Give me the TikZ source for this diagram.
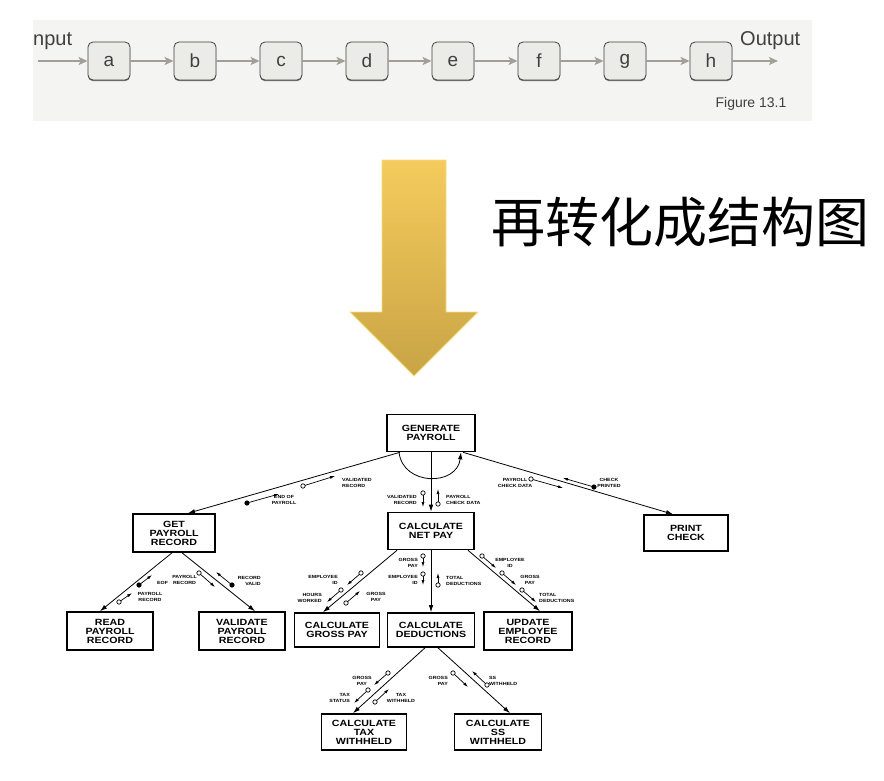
\documentclass[tikz,border=0pt]{standalone}
\usepackage{fontspec}
\setmainfont{Liberation Sans}
\newfontfamily\chartfont[FakeStretch=1.18]{Liberation Sans}
\newfontfamily\cjk{Noto Sans CJK SC}
\usetikzlibrary{arrows.meta,shadows}
\definecolor{panelgray}{HTML}{F4F4F3}
\definecolor{flowgray}{HTML}{A39F97}
\definecolor{boxgray}{HTML}{EBEBE8}
\definecolor{goldtop}{HTML}{F4CB5C}
\definecolor{goldbot}{HTML}{C9A445}
\definecolor{goldedge}{HTML}{F7DB85}

% data couple: #1 tail, #2 head, #3 fill of the tail circle
\newcommand{\dcouple}[3]{%
  \draw[cpl] #1 -- #2;
  \filldraw[fill=#3, line width=0.7pt] #1 circle (2.2);}

\begin{document}
\begin{tikzpicture}[x=1pt, y=-1pt]
  % Define styles
  \tikzstyle{stage} = [rectangle, draw=black!75, fill=boxgray, rounded corners=5pt, line width=0.8pt, minimum width=42pt, minimum height=38pt, font=\fontsize{19}{20}\selectfont, text=black!75, drop shadow={shadow xshift=0pt, shadow yshift=-1.2pt, fill=black!55, opacity=1}]
  \tikzstyle{flow} = [draw=flowgray, line width=1.8pt, -{Stealth[length=9pt, width=8pt, inset=2pt]}]
  \tikzstyle{module} = [rectangle, draw, line width=1.6pt, align=center, font=\chartfont\bfseries\fontsize{9}{9}\selectfont, inner sep=2pt, minimum width=85pt, minimum height=36pt]
  \tikzstyle{call} = [line width=0.8pt, -{Latex[length=7pt, width=4.5pt]}]
  \tikzstyle{cpl} = [line width=0.7pt, -{Latex[length=5pt, width=3pt]}]
  \tikzstyle{tag} = [font=\chartfont\bfseries\fontsize{4.5}{5.8}\selectfont, inner sep=0pt]

  \useasboundingbox (0,0) rectangle (884,780);

  % Figure 13.1 panel
  \fill[panelgray] (33,20) rectangle (812,121);
  \node[stage] (a) at (109,61) {a};
  \node[stage] (b) at (195,61) {b};
  \node[stage] (c) at (281,61) {c};
  \node[stage] (d) at (367,61) {d};
  \node[stage] (e) at (453,61) {e};
  \node[stage] (f) at (539,61) {f};
  \node[stage] (g) at (625,61) {g};
  \node[stage] (h) at (711,61) {h};
  \coordinate (inp) at (38,61);
  \coordinate (outp) at (778,61);
  \draw[flow] (inp) -- (a);
  \draw[flow] (a) -- (b);
  \draw[flow] (b) -- (c);
  \draw[flow] (c) -- (d);
  \draw[flow] (d) -- (e);
  \draw[flow] (e) -- (f);
  \draw[flow] (f) -- (g);
  \draw[flow] (g) -- (h);
  \draw[flow] (h) -- (outp);
  \node[font=\fontsize{20}{20}\selectfont, text=black!75, anchor=west, inner sep=0pt] (intext) at (33,41) {nput};
  \node[font=\fontsize{20}{20}\selectfont, text=black!75, anchor=west, inner sep=0pt] (outtext) at (740,41) {Output};
  \node[font=\fontsize{14}{14}\selectfont, text=black!75, inner sep=0pt] (figlbl) at (751,104) {Figure 13.1};

  % Big arrow and handwritten note
  \shade[top color=goldtop, bottom color=goldbot, draw=goldedge, line width=0.8pt] (382,160) -- (446,160) -- (446,312) -- (478,312) -- (414,376) -- (350,312) -- (382,312) -- cycle;
  \node[font=\cjk\fontsize{54}{54}\selectfont, inner sep=0pt] (note) at (680,222) {再转化成结构图};

  % Structure chart modules
  \node[module, minimum width=88pt, minimum height=37pt] (gen) at (431,433) {GENERATE\\PAYROLL};
  \node[module, minimum width=82pt, minimum height=38pt] (get) at (174,533) {GET\\PAYROLL\\RECORD};
  \node[module, minimum width=86pt, minimum height=37pt] (net) at (431,531) {CALCULATE\\NET PAY};
  \node[module, minimum width=84pt] (print) at (686,533) {PRINT\\CHECK};
  \node[module, minimum width=86pt, minimum height=38pt] (read) at (110,631) {READ\\PAYROLL\\RECORD};
  \node[module, minimum width=86pt, minimum height=38pt] (valid) at (242,631) {VALIDATE\\PAYROLL\\RECORD};
  \node[module, minimum height=34pt] (gross) at (337,630) {CALCULATE\\GROSS PAY};
  \node[module, minimum width=87pt, minimum height=34pt] (ded) at (431,630) {CALCULATE\\DEDUCTIONS};
  \node[module, minimum width=88pt, minimum height=38pt] (upd) at (528,631) {UPDATE\\EMPLOYEE\\RECORD};
  \node[module] (tax) at (364,732) {CALCULATE\\TAX\\WITHHELD};
  \node[module, minimum width=87pt] (ss) at (498,732) {CALCULATE\\SS\\WITHHELD};

  % Calls
  \draw[call] ([xshift=-31pt]gen.south) -- ([xshift=14pt]get.north);
  \draw[call] (gen) -- (net);
  \draw[call] ([xshift=32pt]gen.south) -- ([xshift=-13pt]print.north);
  \draw[call] ([xshift=-32pt]gen.south) .. controls +(4,34) and +(-4,34) .. ([xshift=30pt]gen.south);
  \draw[call] ([xshift=-2pt]get.south) -- ([xshift=-10pt]read.north);
  \draw[call] ([xshift=8pt]get.south) -- ([xshift=13pt]valid.north);
  \draw[call] ([xshift=-34pt]net.south) -- ([xshift=-14pt]gross.north);
  \draw[call] (net) -- (ded);
  \draw[call] ([xshift=37pt]net.south) -- ([xshift=12pt]upd.north);
  \draw[call] ([xshift=-6pt]ded.south) -- ([xshift=-11pt]tax.north);
  \draw[call] ([xshift=7pt]ded.south) -- ([xshift=12pt]ss.north);

  % Couples: GENERATE PAYROLL - GET PAYROLL RECORD
  \dcouple{(303,486)}{(335,476)}{white}
  \dcouple{(247,503)}{(279,494)}{black}
  \node[tag, anchor=west, align=left] (t1) at (342,483) {VALIDATED\\RECORD};
  \node[tag, align=center] (t2) at (284,500) {END OF\\PAYROLL};

  % Couples: GENERATE PAYROLL - CALCULATE NET PAY
  \dcouple{(423,493)}{(423,507)}{white}
  \dcouple{(438,504)}{(438,489)}{white}
  \node[tag, anchor=east, align=right] (t3) at (417,500) {VALIDATED\\RECORD};
  \node[tag, anchor=west, align=left] (t4) at (446,500) {PAYROLL\\CHECK DATA};

  % Couples: GENERATE PAYROLL - PRINT CHECK
  \dcouple{(531,479)}{(563,488)}{white}
  \dcouple{(594,487)}{(563,478)}{black}
  \node[tag, align=center] (t5) at (515,483) {PAYROLL\\CHECK DATA};
  \node[tag, align=center] (t6) at (609,483) {CHECK\\PRINTED};

  % Couples under GET PAYROLL RECORD
  \dcouple{(139,585)}{(152,575)}{black}
  \dcouple{(119,602)}{(132,593)}{white}
  \dcouple{(199,573)}{(215,587)}{white}
  \dcouple{(232,585)}{(216,572)}{black}
  \node[tag, anchor=west] (t7) at (157,583) {EOF};
  \node[tag, align=center] (t8) at (150,597) {PAYROLL\\RECORD};
  \node[tag, anchor=east, align=center] (t9) at (197,580) {PAYROLL\\RECORD};
  \node[tag, anchor=east, align=right] (t10) at (261,581) {RECORD\\VALID};

  % Couples under CALCULATE NET PAY
  \dcouple{(361,573)}{(347,585)}{white}
  \dcouple{(341,590)}{(327,602)}{white}
  \dcouple{(346,603)}{(360,591)}{white}
  \node[tag, anchor=east, align=right] (t11) at (338,580) {EMPLOYEE\\ID};
  \node[tag, anchor=east, align=right] (t12) at (322,598) {HOURS\\WORKED};
  \node[tag, align=center] (t13) at (376,597) {GROSS\\PAY};
  \dcouple{(423,556)}{(423,567)}{white}
  \dcouple{(423,574)}{(423,585)}{white}
  \dcouple{(438,585)}{(438,573)}{white}
  \node[tag, anchor=east, align=right] (t14) at (418,563) {GROSS\\PAY};
  \node[tag, anchor=east, align=right] (t15) at (418,580) {EMPLOYEE\\ID};
  \node[tag, anchor=west, align=left] (t16) at (446,581) {TOTAL\\DEDUCTIONS};
  \dcouple{(482,556)}{(496,568)}{white}
  \dcouple{(502,573)}{(516,585)}{white}
  \dcouple{(522,590)}{(536,602)}{white}
  \node[tag, align=center] (t17) at (510,563) {EMPLOYEE\\ID};
  \node[tag, align=center] (t18) at (530,580) {GROSS\\PAY};
  \node[tag, anchor=west, align=left] (t19) at (539,598) {TOTAL\\DEDUCTIONS};

  % Couples under CALCULATE DEDUCTIONS
  \dcouple{(388,673)}{(374,685)}{white}
  \dcouple{(368,690)}{(354,703)}{white}
  \dcouple{(375,702)}{(389,689)}{white}
  \node[tag, align=center] (t20) at (362,681) {GROSS\\PAY};
  \node[tag, anchor=east, align=right] (t21) at (350,698) {TAX\\STATUS};
  \node[tag, align=center] (t22) at (401,698) {TAX\\WITHHELD};
  \dcouple{(453,673)}{(468,687)}{white}
  \dcouple{(487,685)}{(472,671)}{white}
  \node[tag, anchor=east, align=right] (t23) at (448,681) {GROSS\\PAY};
  \node[tag, anchor=west, align=left] (t24) at (489,681) {SS\\WITHHELD};
\end{tikzpicture}
\end{document}
